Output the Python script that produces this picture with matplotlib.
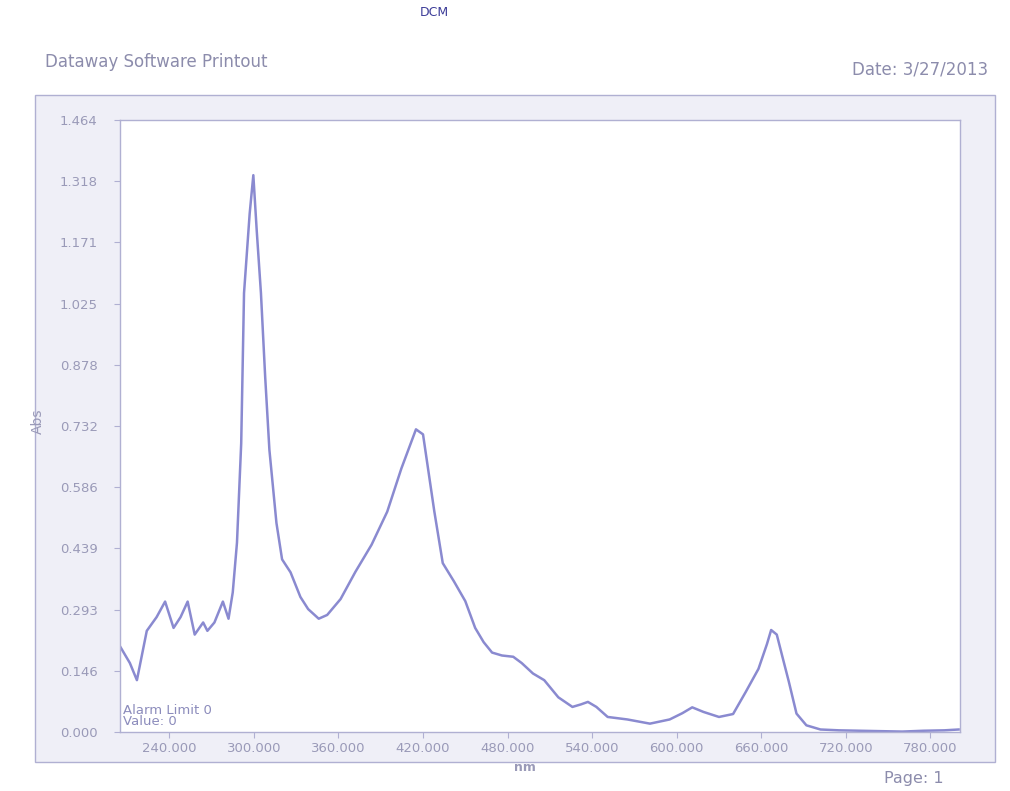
"""Absorbance spectrum printout (Dataway software style)."""

import numpy as np
import matplotlib.pyplot as plt
from matplotlib.patches import Rectangle

# absorbance spectrum
wavelength = [
    205, 212, 217, 224, 231, 237, 243, 248, 253, 258, 264, 267, 272, 278,
    282, 285, 288, 291, 293, 297, 299.6, 302, 305, 308, 311, 316, 320, 326,
    333, 338.5, 346, 352, 361.5, 372, 383.5, 394.6, 404.6, 415, 420, 424,
    428, 434, 442, 450, 457, 463, 469, 476, 484, 490, 498, 506, 516, 526,
    532, 537, 543, 551, 565, 581, 595, 604, 611, 619, 630, 640, 649, 658,
    664, 667, 671, 675, 679.5, 685, 692, 702, 715, 730, 745, 760, 775, 790,
    800]
absorbance = [
    0.205, 0.165, 0.124, 0.242, 0.275, 0.312, 0.249, 0.275, 0.312, 0.233,
    0.262, 0.242, 0.262, 0.312, 0.271, 0.334, 0.453, 0.691, 1.050, 1.240,
    1.332, 1.200, 1.050, 0.850, 0.675, 0.500, 0.413, 0.382, 0.323, 0.294,
    0.271, 0.280, 0.318, 0.383, 0.448, 0.527, 0.630, 0.724, 0.712, 0.620,
    0.528, 0.404, 0.360, 0.313, 0.249, 0.215, 0.190, 0.183, 0.180, 0.165,
    0.140, 0.124, 0.083, 0.060, 0.066, 0.072, 0.060, 0.036, 0.030, 0.020,
    0.030, 0.045, 0.059, 0.048, 0.036, 0.043, 0.096, 0.151, 0.210, 0.244,
    0.233, 0.180, 0.121, 0.044, 0.016, 0.006, 0.004, 0.003, 0.002, 0.001,
    0.003, 0.004, 0.006]

ymax = 1.464
xticks = list(range(240, 781, 60))
yticks = np.linspace(0, ymax, 11)

line_color = '#8a8ad0'
frame_color = '#b0b0d2'
text_color = '#9a9ab8'


def px(x, y, w, h, W=1010, H=791):
    """Convert a pixel box (top-left origin) to figure fractions."""
    return [x / W, 1 - (y + h) / H, w / W, h / H]


def main():
    plt.rcParams['font.family'] = ['DejaVu Sans']
    fig = plt.figure(figsize=(10.1, 7.91), dpi=100)
    fig.patch.set_facecolor('white')

    # shaded page panel behind the graph
    panel = px(35, 95, 960, 667)
    fig.add_artist(Rectangle(
        (panel[0], panel[1]), panel[2], panel[3], transform=fig.transFigure,
        facecolor='#efeff7', edgecolor=frame_color, lw=1.0, zorder=0))

    ax = fig.add_axes(px(120, 120, 840, 612))
    ax.set_facecolor('white')
    ax.plot(wavelength, absorbance, color=line_color, lw=1.8,
            solid_joinstyle='round')

    # axes properties
    ax.set_xlim(205, 801)
    ax.set_ylim(0, ymax)
    ax.set_xticks(xticks)
    ax.set_xticklabels([f'{v:.3f}' for v in xticks])
    ax.set_yticks(yticks)
    ax.set_yticklabels([f'{v:.3f}' for v in yticks])
    ax.tick_params(axis='both', colors=frame_color, labelcolor=text_color,
                   labelsize=9.5, length=4, width=0.8)
    ax.tick_params(axis='y', pad=12)
    ax.tick_params(axis='x', pad=3)
    for spine in ax.spines.values():
        spine.set_color(frame_color)
        spine.set_linewidth(1.0)
    ax.set_xlabel('nm', color=text_color, fontsize=9, fontweight='bold')
    ax.xaxis.set_label_coords(0.482, -0.047)
    ax.set_ylabel('Abs', color=text_color, fontsize=10)
    ax.yaxis.set_label_coords(-0.09, 0.508)

    # alarm note in the lower left corner
    ax.text(0.003, 0.006, 'Alarm Limit 0\nValue: 0', transform=ax.transAxes,
            ha='left', va='bottom', fontsize=9.5, color='#8c8cbc',
            linespacing=0.8)

    # page header and footer
    fig.text(45 / 1010, 1 - 62 / 791, 'Dataway Software Printout',
             ha='left', va='center', fontsize=12, color='#8c8cac')
    fig.text(988 / 1010, 1 - 70 / 791, 'Date: 3/27/2013',
             ha='right', va='center', fontsize=12, color='#8c8cac')
    fig.text(944 / 1010, 1 - 779 / 791, 'Page: 1',
             ha='right', va='center', fontsize=11.5, color='#8c8cac')
    fig.text(434 / 1010, 1 - 12 / 791, 'DCM', ha='center', va='center',
             fontsize=9, color='#3c3c98')

    fig.savefig('out.png', dpi=100)


if __name__ == '__main__':
    main()
